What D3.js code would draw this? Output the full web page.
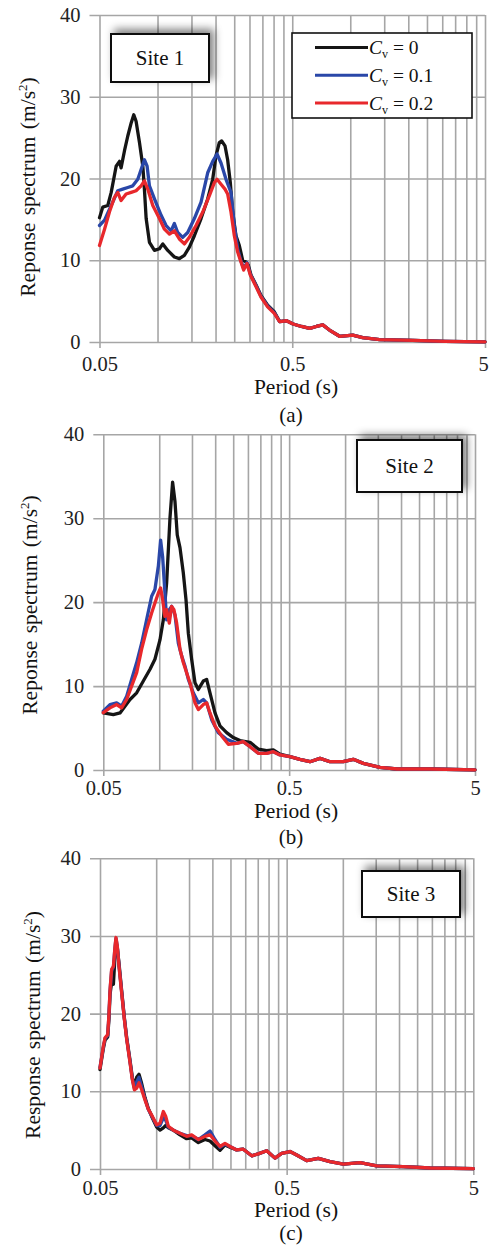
<!DOCTYPE html>
<html>
<head>
<meta charset="utf-8">
<script src="https://cdn.jsdelivr.net/npm/d3@7"></script>
<style>
  body { margin: 0; background: #fff; }
  .grid line { stroke: #a6a6a6; stroke-width: 1.6; }
  .grid path { display: none; }
  .ticks path { display: none; }
  .ticks line { stroke: #a6a6a6; stroke-width: 1.6; }
</style>
</head>
<body>
<script>
const serif = "'Liberation Serif', 'Times New Roman', Times, 'DejaVu Serif', serif";

// ---- axis values ----
const majorPeriods = [0.05, 0.5, 5];
const minorPeriods = [0.1, 0.15, 0.2, 0.25, 0.3, 0.35, 0.4, 0.45, 1, 1.5, 2, 2.5, 3, 3.5, 4, 4.5];
const yTicks = [0, 10, 20, 30, 40];
const seriesLabels = ["0", "0.1", "0.2"];
const seriesColors = ["#151515", "#2a47a8", "#e8282c"];

// ---- Site 1: [period (s), spectrum (m/s2)] ----
const site1Black = [[0.05,15.2],[0.052,16.5],[0.0552,16.7],[0.0575,18.3],[0.061,21.5],[0.0635,22.1],[0.0647,21.3],[0.0674,23.4],[0.0701,25.2],[0.073,26.8],[0.0753,27.8],[0.0774,27.0],[0.0806,24.4],[0.0839,21.5],[0.0855,18.7],[0.0873,15.1],[0.0908,12.2],[0.0964,11.2],[0.1023,11.4],[0.1065,12.0],[0.113,11.2],[0.1223,10.4],[0.1298,10.2],[0.1378,10.6],[0.1463,11.6],[0.1553,13.0],[0.1682,15.1],[0.1821,17.5],[0.1933,19.9],[0.2011,22.8],[0.2093,24.4],[0.2152,24.6],[0.2239,24.0],[0.2311,22.3],[0.2386,19.5],[0.2454,15.9],[0.2553,13.0],[0.2657,11.8],[0.2765,10.0],[0.2877,9.8],[0.2958,9.4],[0.3054,8.2],[0.3241,7.0],[0.3441,5.7],[0.3726,4.5],[0.4034,3.7]];
const site1Blue = [[0.05,14.25],[0.0531,14.9],[0.0575,16.7],[0.0622,18.5],[0.066,18.7],[0.0701,18.9],[0.0744,19.1],[0.079,19.9],[0.0822,21.1],[0.0855,22.3],[0.0883,21.5],[0.0908,19.1],[0.0964,17.5],[0.1044,15.5],[0.1108,14.25],[0.1176,13.6],[0.1223,14.5],[0.1273,13.4],[0.1351,12.8],[0.1434,13.4],[0.1553,15.1],[0.1682,17.1],[0.1821,20.7],[0.1933,22.1],[0.2036,23.0],[0.2135,21.9],[0.2266,19.9],[0.2405,18.3],[0.2503,14.25],[0.2605,11.4],[0.271,9.9],[0.2798,9.0],[0.2911,9.7],[0.303,8.3],[0.3241,6.9],[0.3441,5.6],[0.3726,4.4],[0.4034,3.6]];
const site1Red = [[0.05,11.8],[0.0531,13.8],[0.0563,15.9],[0.0598,17.7],[0.0622,18.3],[0.0647,17.3],[0.0687,18.1],[0.073,18.3],[0.0774,18.5],[0.0822,19.1],[0.0855,19.7],[0.089,18.7],[0.0945,16.7],[0.1023,15.1],[0.1086,13.8],[0.1153,13.2],[0.1223,13.6],[0.1298,12.6],[0.1378,12.0],[0.1463,12.8],[0.1584,14.25],[0.1716,15.9],[0.1858,17.9],[0.1972,19.5],[0.2036,19.9],[0.2135,19.3],[0.2239,18.7],[0.2311,18.1],[0.2405,15.9],[0.2503,13.0],[0.2605,11.0],[0.271,9.8],[0.2798,8.8],[0.2911,9.6],[0.303,8.2],[0.3241,6.8],[0.3441,5.5],[0.3726,4.3],[0.4034,3.5]];
// the three curves overlap beyond ~0.4 s
const site1Tail = [[0.43,2.5],[0.467,2.6],[0.505,2.2],[0.558,1.9],[0.616,1.67],[0.667,1.9],[0.72,2.1],[0.78,1.46],[0.88,0.7],[1.03,0.83],[1.16,0.54],[1.42,0.29],[2.11,0.2],[3.1,0.08],[5.0,0.02]];

// ---- Site 2 ----
const site2Black = [[0.05,6.8],[0.0566,6.6],[0.0615,6.8],[0.0654,7.6],[0.0696,8.4],[0.0756,9.2],[0.0821,10.6],[0.0892,12.0],[0.0948,13.2],[0.1009,15.5],[0.1052,17.9],[0.1096,22.3],[0.1119,26.2],[0.1142,30.0],[0.118,34.3],[0.1215,32.0],[0.125,28.0],[0.1293,26.5],[0.1347,23.5],[0.1393,20.3],[0.1434,16.3],[0.1494,13.2],[0.1557,10.4],[0.1623,9.6],[0.1726,10.6],[0.1799,10.8],[0.1875,9.2],[0.1995,6.8],[0.2122,5.25],[0.2305,4.45],[0.2503,3.86],[0.2719,3.5],[0.308,3.3],[0.341,2.5],[0.378,2.3],[0.411,2.4],[0.446,1.9]];
const site2Blue = [[0.05,7.0],[0.0543,7.8],[0.059,8.0],[0.0627,7.6],[0.0668,8.8],[0.071,10.8],[0.0756,12.8],[0.0804,15.1],[0.0855,17.9],[0.091,20.7],[0.0948,21.5],[0.0989,24.3],[0.1017,27.4],[0.1043,25.4],[0.1073,21.1],[0.1096,17.9],[0.1133,19.1],[0.1166,19.5],[0.1215,18.5],[0.1267,15.1],[0.132,13.6],[0.1375,12.4],[0.1434,10.8],[0.1525,9.2],[0.1623,8.0],[0.1726,8.4],[0.1799,8.0],[0.1914,6.0],[0.2079,4.45],[0.2305,3.66],[0.261,3.18],[0.283,3.38],[0.308,2.78],[0.341,1.99],[0.378,1.99],[0.411,2.18],[0.446,1.79]];
const site2Red = [[0.05,6.83],[0.0543,7.4],[0.059,7.8],[0.0627,7.4],[0.0668,8.4],[0.071,10.0],[0.0756,11.6],[0.0804,14.4],[0.0855,16.7],[0.091,18.7],[0.0948,19.9],[0.0989,21.1],[0.1017,21.7],[0.1043,20.3],[0.1073,18.3],[0.1096,19.1],[0.1133,17.5],[0.1166,19.5],[0.12,19.1],[0.1241,17.5],[0.1293,14.4],[0.1347,12.8],[0.1404,11.6],[0.1463,10.4],[0.1557,8.0],[0.1623,7.2],[0.1726,7.8],[0.1799,8.0],[0.1875,6.8],[0.1995,5.25],[0.2167,4.06],[0.2353,3.07],[0.261,3.18],[0.283,3.38],[0.308,2.78],[0.341,1.99],[0.378,1.99],[0.411,2.18],[0.446,1.79]];
const site2Tail = [[0.505,1.59],[0.571,1.27],[0.647,0.99],[0.733,1.39],[0.83,0.99],[0.977,0.99],[1.107,1.27],[1.253,0.79],[1.54,0.32],[1.9,0.12],[2.87,0.12],[5.0,0.02]];

// ---- Site 3 ----
const site3Black = [[0.05,12.8],[0.0521,15.5],[0.0532,16.6],[0.055,17.0],[0.0559,19.5],[0.0566,22.5],[0.0577,24.0],[0.059,23.8],[0.0602,27.5],[0.0609,29.2],[0.0619,28.5],[0.0632,26.5],[0.0653,23.0],[0.0675,19.5],[0.0695,16.9],[0.0724,14.0],[0.0745,11.8],[0.0764,10.6],[0.0786,11.8],[0.0809,12.2],[0.0836,11.0],[0.0871,9.2],[0.0907,7.8],[0.0953,6.6],[0.1006,5.4],[0.1048,5.0],[0.1092,5.3],[0.1124,5.6],[0.1161,5.3],[0.1236,5.0],[0.1341,4.4],[0.1456,3.9],[0.1549,4.0],[0.1682,3.4],[0.1826,3.8],[0.1942,3.6],[0.2066,3.0],[0.2197,2.4],[0.2337,3.1],[0.2486,2.8]];
const site3Blue = [[0.05,13.1],[0.0521,15.7],[0.0532,16.8],[0.055,17.2],[0.0559,20.0],[0.0566,23.0],[0.0577,25.5],[0.059,26.0],[0.0602,28.6],[0.0609,29.7],[0.0619,28.6],[0.0632,26.2],[0.0653,22.8],[0.0675,19.4],[0.0695,16.8],[0.0724,13.8],[0.0745,11.6],[0.0764,10.4],[0.0786,11.2],[0.0809,11.8],[0.0836,10.6],[0.0871,9.0],[0.0907,7.7],[0.0953,6.7],[0.1006,5.6],[0.1048,5.6],[0.1092,6.6],[0.1124,6.3],[0.1161,5.4],[0.1236,5.0],[0.1341,4.6],[0.1456,4.3],[0.1549,4.3],[0.1682,3.8],[0.1826,4.4],[0.1942,4.9],[0.2066,3.8],[0.2197,2.8],[0.2337,3.2],[0.2486,2.9]];
const site3Red = [[0.05,13.0],[0.0521,15.8],[0.0532,16.9],[0.055,17.3],[0.0559,20.1],[0.0566,23.1],[0.0577,25.7],[0.059,26.1],[0.0602,28.7],[0.0609,29.8],[0.0619,28.7],[0.0632,26.1],[0.0653,22.7],[0.0675,19.3],[0.0695,16.7],[0.0724,13.7],[0.0745,11.5],[0.0764,10.2],[0.0786,10.4],[0.0809,11.1],[0.0836,10.2],[0.0871,8.9],[0.0907,7.7],[0.0953,6.8],[0.1006,5.7],[0.1048,5.9],[0.1092,7.4],[0.1124,6.8],[0.1161,5.5],[0.1236,5.0],[0.1341,4.6],[0.1456,4.2],[0.1549,4.4],[0.1682,3.8],[0.1826,4.2],[0.1942,4.4],[0.2066,3.6],[0.2197,2.9],[0.2337,3.3],[0.2486,2.9]];
const site3Tail = [[0.27,2.45],[0.293,2.55],[0.325,1.7],[0.352,1.95],[0.391,2.35],[0.433,1.4],[0.47,2.0],[0.521,2.25],[0.566,1.8],[0.64,1.07],[0.739,1.37],[0.854,0.94],[1.007,0.64],[1.237,0.81],[1.52,0.39],[2.11,0.3],[2.93,0.13],[5.0,0.05]];

// ---- layout of the three panels ----
const panels = [
  { site: "Site 1", yTitle: "Reponse spectrum", caption: "(a)",
    left: 99.5, right: 485, top: 15, bottom: 342, labelPad: 8,
    titleY: 394, captionY: 422, yTitleX: 35, yTitleY: 187,
    box: { x: 111, y: 34, w: 98, h: 48 }, legend: true,
    series: [site1Black.concat(site1Tail), site1Blue.concat(site1Tail), site1Red.concat(site1Tail)] },
  { site: "Site 2", yTitle: "Reponse spectrum", caption: "(b)",
    left: 103.3, right: 475, top: 434.3, bottom: 770, labelPad: 4,
    titleY: 818, captionY: 844, yTitleX: 37, yTitleY: 605,
    box: { x: 357, y: 440, w: 105, h: 52 }, legend: false,
    series: [site2Black.concat(site2Tail), site2Blue.concat(site2Tail), site2Red.concat(site2Tail)] },
  { site: "Site 3", yTitle: "Response spectrum", caption: "(c)",
    left: 100, right: 473.3, top: 858.3, bottom: 1169, labelPad: 5,
    titleY: 1217, captionY: 1240, yTitleX: 40, yTitleY: 1025,
    box: { x: 362, y: 871, w: 98, h: 46 }, legend: false,
    series: [site3Black.concat(site3Tail), site3Blue.concat(site3Tail), site3Red.concat(site3Tail)] }
];

const svg = d3.select("body").append("svg")
  .attr("width", 489)
  .attr("height", 1245)
  .attr("font-family", serif)
  .style("display", "block");

// soft shadow behind the "Site" boxes
const filter = svg.append("defs").append("filter")
  .attr("id", "shadow")
  .attr("x", "-30%").attr("y", "-60%")
  .attr("width", "170%").attr("height", "220%");
filter.append("feGaussianBlur").attr("in", "SourceAlpha").attr("stdDeviation", 4);
filter.append("feOffset").attr("dx", 4).attr("dy", -4).attr("result", "blur");
filter.append("feFlood").attr("flood-color", "#000").attr("flood-opacity", 0.5);
filter.append("feComposite").attr("in2", "blur").attr("operator", "in");
const merge = filter.append("feMerge");
merge.append("feMergeNode");
merge.append("feMergeNode").attr("in", "SourceGraphic");

panels.forEach(p => {
  const x = d3.scaleLog().domain([0.05, 5]).range([p.left, p.right]);
  const y = d3.scaleLinear().domain([0, 40]).range([p.bottom, p.top]);
  const w = p.right - p.left;
  const h = p.bottom - p.top;

  // vertical gridlines (major + minor)
  svg.append("g")
    .attr("class", "grid")
    .attr("transform", `translate(0,${p.bottom})`)
    .call(d3.axisBottom(x).tickValues(majorPeriods.concat(minorPeriods)).tickSize(-h).tickFormat(""));

  // horizontal gridlines with short ticks and labels on the left
  const yAxis = svg.append("g")
    .attr("class", "ticks")
    .attr("transform", `translate(${p.left},0)`)
    .call(d3.axisLeft(y).tickValues(yTicks).tickSizeInner(-w).tickSizeOuter(0).tickPadding(19));
  yAxis.selectAll("line").attr("x1", -10);

  // x tick marks and labels
  const xAxis = svg.append("g")
    .attr("class", "ticks")
    .attr("transform", `translate(0,${p.bottom})`)
    .call(d3.axisBottom(x).tickValues(majorPeriods).tickSizeInner(6).tickSizeOuter(0)
      .tickPadding(p.labelPad).tickFormat(d => String(d)));

  [yAxis, xAxis].forEach(g => g
    .attr("font-family", serif)
    .attr("font-size", 20.5)
    .selectAll("text").attr("fill", "#222"));

  // keep the last period label inside the page edge
  xAxis.selectAll("text")
    .filter(d => d === 5)
    .attr("dx", Math.min(0, 483 - p.right));

  // spectra
  const line = d3.line()
    .x(d => x(d[0]))
    .y(d => y(d[1]));

  p.series.forEach((values, i) => {
    svg.append("path")
      .datum(values)
      .attr("d", line)
      .attr("fill", "none")
      .attr("stroke", seriesColors[i])
      .attr("stroke-width", 3.3)
      .attr("stroke-linejoin", "round")
      .attr("stroke-linecap", "round");
  });

  // site label box
  svg.append("rect")
    .attr("x", p.box.x).attr("y", p.box.y)
    .attr("width", p.box.w).attr("height", p.box.h)
    .attr("fill", "#fff")
    .attr("stroke", "#111")
    .attr("stroke-width", 2)
    .attr("filter", "url(#shadow)");
  svg.append("text")
    .attr("x", p.box.x + p.box.w / 2)
    .attr("y", p.box.y + p.box.h / 2 + 7)
    .attr("text-anchor", "middle")
    .attr("font-size", 21)
    .attr("fill", "#111")
    .text(p.site);

  // legend
  if (p.legend) {
    const lg = svg.append("g");
    lg.append("rect")
      .attr("x", 292).attr("y", 33)
      .attr("width", 180).attr("height", 85)
      .attr("fill", "#fff")
      .attr("stroke", "#111")
      .attr("stroke-width", 1.6);
    seriesLabels.forEach((lab, i) => {
      const ly = 47.5 + i * 27.8;
      lg.append("line")
        .attr("x1", 315).attr("x2", 368)
        .attr("y1", ly).attr("y2", ly)
        .attr("stroke", seriesColors[i])
        .attr("stroke-width", 3);
      const t = lg.append("text")
        .attr("x", 369).attr("y", ly + 6.5)
        .attr("font-size", 19.5)
        .attr("fill", "#111");
      t.append("tspan").attr("font-style", "italic").text("C");
      t.append("tspan").attr("font-size", 12).attr("dy", 4).text("v");
      t.append("tspan").attr("dy", -4).text(" = " + lab);
    });
  }

  // axis titles and caption
  svg.append("text")
    .attr("x", 296).attr("y", p.titleY)
    .attr("text-anchor", "middle")
    .attr("font-size", 21.5)
    .attr("fill", "#111")
    .text("Period (s)");

  svg.append("text")
    .attr("x", 291).attr("y", p.captionY)
    .attr("text-anchor", "middle")
    .attr("font-size", 21)
    .attr("fill", "#111")
    .text(p.caption);

  const yt = svg.append("text")
    .attr("transform", `translate(${p.yTitleX},${p.yTitleY}) rotate(-90)`)
    .attr("text-anchor", "middle")
    .attr("font-size", 21.5)
    .attr("word-spacing", 2)
    .attr("fill", "#111");
  yt.append("tspan").text(p.yTitle + " (m/s");
  yt.append("tspan").attr("font-size", 13).attr("dy", -8).text("2");
  yt.append("tspan").attr("dy", 8).text(")");
});
</script>
</body>
</html>
